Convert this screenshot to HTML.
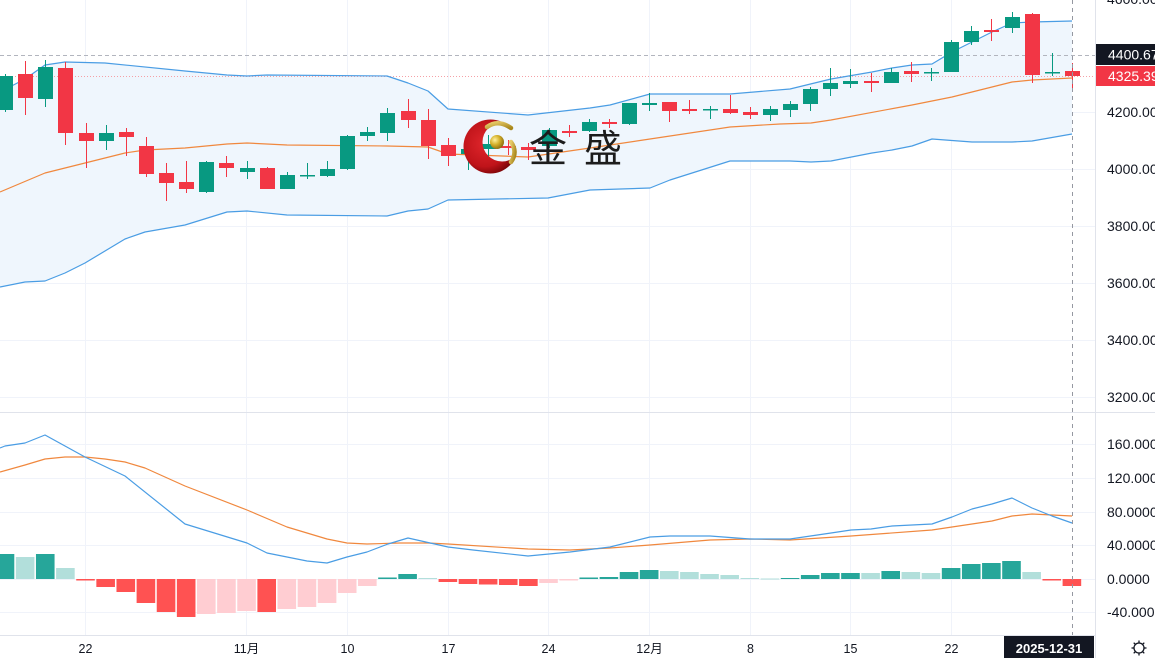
<!DOCTYPE html>
<html><head><meta charset="utf-8">
<style>
html,body{margin:0;padding:0;background:#fff;width:1155px;height:658px;overflow:hidden}
svg{display:block}
text{font-family:"Liberation Sans","Noto Sans CJK SC",sans-serif}
</style></head><body>
<svg id="c" width="1155" height="658" viewBox="0 0 1155 658" xmlns="http://www.w3.org/2000/svg">
<defs>
<radialGradient id="rg" cx="0.4" cy="0.45" r="0.6">
<stop offset="0" stop-color="#e0262c"/><stop offset="0.7" stop-color="#c0141a"/><stop offset="1" stop-color="#7a0508"/>
</radialGradient>
<radialGradient id="gg" cx="0.35" cy="0.35" r="0.7">
<stop offset="0" stop-color="#fff2a0"/><stop offset="0.5" stop-color="#d4b02a"/><stop offset="1" stop-color="#8a6a10"/>
</radialGradient>
<linearGradient id="ga" x1="0" y1="0" x2="1" y2="1">
<stop offset="0" stop-color="#e8cc6a"/><stop offset="1" stop-color="#a8871c"/>
</linearGradient>
<mask id="cm" maskUnits="userSpaceOnUse" x="450" y="100" width="100" height="100">
<rect x="450" y="100" width="100" height="100" fill="#fff"/>
<circle cx="502" cy="142" r="19.5" fill="#000"/>
</mask>
</defs>

<!-- grid -->
<g stroke="#f0f3fa" stroke-width="1">
<line x1="0" y1="112.5" x2="1095" y2="112.5"/>
<line x1="0" y1="169.5" x2="1095" y2="169.5"/>
<line x1="0" y1="226.5" x2="1095" y2="226.5"/>
<line x1="0" y1="283.5" x2="1095" y2="283.5"/>
<line x1="0" y1="340.5" x2="1095" y2="340.5"/>
<line x1="0" y1="397.5" x2="1095" y2="397.5"/>
<line x1="0" y1="444.5" x2="1095" y2="444.5"/>
<line x1="0" y1="478.5" x2="1095" y2="478.5"/>
<line x1="0" y1="512.5" x2="1095" y2="512.5"/>
<line x1="0" y1="545.5" x2="1095" y2="545.5"/>
<line x1="0" y1="579.5" x2="1095" y2="579.5"/>
<line x1="0" y1="612.5" x2="1095" y2="612.5"/>
<line x1="85.5" y1="0" x2="85.5" y2="635"/>
<line x1="246.5" y1="0" x2="246.5" y2="635"/>
<line x1="347.5" y1="0" x2="347.5" y2="635"/>
<line x1="448.5" y1="0" x2="448.5" y2="635"/>
<line x1="548.5" y1="0" x2="548.5" y2="635"/>
<line x1="649.5" y1="0" x2="649.5" y2="635"/>
<line x1="750.5" y1="0" x2="750.5" y2="635"/>
<line x1="850.5" y1="0" x2="850.5" y2="635"/>
<line x1="951.5" y1="0" x2="951.5" y2="635"/>
</g>

<!-- bollinger fill -->
<polygon fill="#eff6fd" points="0,92 25,79 45,65 65,62 105,63 185,71 227,75 247,76 267,75 387,76 408,83 428,91 448,109 528,115 590,108 610,105 650,94 730,94 790,89 831,79 872,72 892,68 912,65 932,64 952,52 972,42 992,32 1012,23 1032,22 1072,21 1072,134 1032,141 1012,142 972,142 932,139 912,146 892,150 872,153 831,161 811,162 790,161 730,161 670,180 650,188 590,190 548,198 448,200 428,209 408,211 387,216 287,215 247,211 227,212 185,225 145,232 125,239 85,263 65,273 45,281 25,282 0,287"/>

<!-- price lines -->
<line x1="0" y1="55.5" x2="1095" y2="55.5" stroke="#b2b5be" stroke-width="1" stroke-dasharray="4,3"/>
<line x1="0" y1="76.5" x2="1095" y2="76.5" stroke="#f5a0a6" stroke-width="1" stroke-dasharray="1,2"/>

<!-- bands -->
<g fill="none" stroke-width="1.2" stroke-linejoin="round">
<polyline stroke="#4a9de4" points="0,92 25,79 45,65 65,62 105,63 185,71 227,75 247,76 267,75 387,76 408,83 428,91 448,109 528,115 590,108 610,105 650,94 730,94 790,89 831,79 872,72 892,68 912,65 932,64 952,52 972,42 992,32 1012,23 1032,22 1072,21"/>
<polyline stroke="#4a9de4" points="0,287 25,282 45,281 65,273 85,263 125,239 145,232 185,225 227,212 247,211 287,215 387,216 408,211 428,209 448,200 548,198 590,190 650,188 670,180 730,161 790,161 811,162 831,161 872,153 892,150 912,146 932,139 972,142 1012,142 1032,141 1072,134"/>
<polyline stroke="#f0883e" points="0,192 45,173 85,163 125,153 145,150 185,148 227,144 247,143 287,145 387,146 428,147 448,154 528,157 590,148 650,139 730,127 780,124 811,123 831,120 912,105 932,101 952,97 972,92 1012,82 1032,80 1072,78"/>
</g>

<g id="candles"></g>

<!-- logo -->
<g>
<circle cx="490.5" cy="146.5" r="27" fill="url(#rg)" mask="url(#cm)"/>
<path d="M487,127 Q498,119 511,128" fill="none" stroke="url(#ga)" stroke-width="4.5" stroke-linecap="round"/>
<path d="M511,142 Q518,152 511,162" fill="none" stroke="url(#ga)" stroke-width="4.5" stroke-linecap="round"/>
<circle cx="497" cy="142" r="7" fill="url(#gg)"/>
<text x="529" y="162" font-size="38" fill="#1c1c1c" style='font-family:"Noto Sans CJK SC","WenQuanYi Zen Hei",sans-serif'>金</text>
<text x="584" y="162" font-size="38" fill="#1c1c1c" style='font-family:"Noto Sans CJK SC","WenQuanYi Zen Hei",sans-serif'>盛</text>
</g>

<g id="hist"></g>

<!-- macd lines -->
<g fill="none" stroke-width="1.2" stroke-linejoin="round">
<polyline stroke="#f0883e" points="0,472 25,465 45,459 65,457 85,457 105,459 125,462 145,468 185,486 247,510 287,527 327,539 347,543 367,544 400,543 428,543 448,544 528,549 570,550 610,548 650,545 710,540 750,539 790,540 851,536 932,530 952,527 992,521 1012,516 1032,514 1072,516"/>
<polyline stroke="#4a9de4" points="0,448 5,446 25,443 45,435 85,457 125,476 185,524 247,543 267,553 307,561 327,563 347,557 367,552 388,544 408,538 448,547 473,550 528,556 570,552 610,547 650,537 670,536 710,536 750,539 790,539 831,533 851,530 871,529 892,526 912,525 932,524 952,517 972,509 992,504 1012,498 1032,508 1052,516 1072,523"/>
</g>

<!-- separators / axes -->
<line x1="0" y1="412.5" x2="1155" y2="412.5" stroke="#e0e3eb" stroke-width="1"/>
<line x1="0" y1="635.5" x2="1095" y2="635.5" stroke="#e0e3eb" stroke-width="1"/>
<line x1="1095.5" y1="0" x2="1095.5" y2="658" stroke="#e0e3eb" stroke-width="1"/>

<!-- crosshair -->
<line x1="1072.5" y1="0" x2="1072.5" y2="635" stroke="#9598a1" stroke-width="1" stroke-dasharray="4,4"/>

<!-- right axis labels -->
<g font-size="14" fill="#131722">
<text x="1107" y="4">4600.00</text>
<text x="1107" y="117">4200.00</text>
<text x="1107" y="174">4000.00</text>
<text x="1107" y="231">3800.00</text>
<text x="1107" y="288">3600.00</text>
<text x="1107" y="345">3400.00</text>
<text x="1107" y="402">3200.00</text>
<text x="1107" y="449">160.0000</text>
<text x="1107" y="483">120.0000</text>
<text x="1107" y="517">80.0000</text>
<text x="1107" y="550">40.0000</text>
<text x="1107" y="584">0.0000</text>
<text x="1107" y="617">-40.0000</text>
</g>
<rect x="1096" y="44" width="59" height="21" fill="#131722"/>
<text x="1108" y="59.5" font-size="14" fill="#fff">4400.67</text>
<rect x="1096" y="66" width="59" height="20" fill="#f23645"/>
<text x="1108" y="81" font-size="14" fill="#fff">4325.39</text>

<!-- bottom axis -->
<g font-size="12.5" fill="#131722" text-anchor="middle">
<text x="85.5" y="653">22</text>
<text x="246.5" y="653">11月</text>
<text x="347.5" y="653">10</text>
<text x="448.5" y="653">17</text>
<text x="548.5" y="653">24</text>
<text x="649.5" y="653">12月</text>
<text x="750.5" y="653">8</text>
<text x="850.5" y="653">15</text>
<text x="951.5" y="653">22</text>
</g>
<rect x="1004" y="636" width="90" height="22" fill="#131722"/>
<text x="1049" y="653" font-size="13" font-weight="bold" fill="#fff" text-anchor="middle">2025-12-31</text>

<!-- gear -->
<g stroke="#131722" stroke-width="1.3" fill="none">
<circle cx="1139" cy="648" r="5"/>
<line x1="1139" y1="640.5" x2="1139" y2="643"/>
<line x1="1139" y1="653" x2="1139" y2="655.5"/>
<line x1="1131.5" y1="648" x2="1134" y2="648"/>
<line x1="1144" y1="648" x2="1146.5" y2="648"/>
<line x1="1133.7" y1="642.7" x2="1135.5" y2="644.5"/>
<line x1="1142.5" y1="651.5" x2="1144.3" y2="653.3"/>
<line x1="1133.7" y1="653.3" x2="1135.5" y2="651.5"/>
<line x1="1142.5" y1="644.5" x2="1144.3" y2="642.7"/>
</g>
</svg>
<script>
(function(){
var NS="http://www.w3.org/2000/svg";
function el(t,a,p){var e=document.createElementNS(NS,t);for(var k in a)e.setAttribute(k,a[k]);p.appendChild(e);return e;}
function X(k){return 5+20.13*k;}
var C=[
[0,'g',76,110,74,112],[1,'r',74,98,61,115],[2,'g',67,99,60,107],[3,'r',68,133,62,145],
[4,'r',133,141,123,168],[5,'g',133,141,125,150],[6,'r',132,137,128,156],[7,'r',146,174,137,177],
[8,'r',173,183,163,201],[9,'r',182,189,161,193],[10,'g',162,192,161,193],[11,'r',163,168,156,177],
[12,'g',168,172,161,179],[13,'r',168,189,167,189],[14,'g',175,189,172,189],[15,'g',175,176,163,179],
[16,'g',169,176,161,177],[17,'g',136,169,135,170],[18,'g',132,136,127,141],[19,'g',113,133,108,141],
[20,'r',111,120,99,128],[21,'r',120,146,109,159],[22,'r',145,156,138,166],[23,'g',149,154,143,170],
[24,'g',144,149,135,160],[25,'r',146,148,140,155],[26,'r',147,150,143,160],[27,'g',130,146,128,148],
[28,'r',131,133,125,137],[29,'g',122,131,119,132],[30,'r',122,124,119,128],[31,'g',103,124,103,125],
[32,'g',103,105,93,111],[33,'r',102,111,102,122],[34,'r',109,111,100,114],[35,'g',109,110,106,119],
[36,'r',109,113,95,114],[37,'r',112,115,107,119],[38,'g',109,115,106,121],[39,'g',104,110,101,117],
[40,'g',89,104,87,111],[41,'g',83,89,68,96],[42,'g',81,84,69,88],[43,'r',81,83,73,92],
[44,'g',72,83,68,83],[45,'r',71,74,62,82],[46,'g',72,73,68,81],[47,'g',42,72,40,72],
[48,'g',31,42,26,45],[49,'r',30,32,19,41],[50,'g',17,28,12,33],[51,'r',14,75,13,83],
[52,'g',72,73,53,76],[53,'r',71,76,63,90]];
var g=document.getElementById('candles');
C.forEach(function(d){var x=Math.round(X(d[0]))+0.5;var col=d[1]=='g'?'#089981':'#f23645';
el('line',{x1:x,x2:x,y1:d[4],y2:d[5],stroke:col,'stroke-width':1},g);
el('rect',{x:x-7.5,y:d[2],width:15,height:Math.max(1.5,d[3]-d[2]),fill:col},g);});
var H=[[0,'dg',554],[1,'lg',557],[2,'dg',554],[3,'lg',568],[4,'r',580.5],[5,'r',587],[6,'r',592],[7,'r',603],
[8,'r',612],[9,'r',617],[10,'lr',614],[11,'lr',613],[12,'lr',611],[13,'r',612],[14,'lr',609],[15,'lr',607],
[16,'lr',603],[17,'lr',593],[18,'lr',586],[19,'dg',577.5],[20,'dg',574],[21,'lg',578],[22,'r',582],[23,'r',584],
[24,'r',584.5],[25,'r',585],[26,'r',586],[27,'lr',583],[28,'lr',580.5],[29,'dg',577.5],[30,'dg',577],[31,'dg',572],
[32,'dg',570],[33,'lg',571],[34,'lg',572],[35,'lg',574],[36,'lg',575],[37,'lg',578],[38,'lg',578.5],[39,'dg',578],
[40,'dg',575],[41,'dg',573],[42,'dg',573],[43,'lg',573],[44,'dg',571],[45,'lg',572],[46,'lg',573],[47,'dg',568],
[48,'dg',564],[49,'dg',563],[50,'dg',561],[51,'lg',572],[52,'r',580.5],[53,'r',586]];
var cols={dg:'#26a69a',lg:'#b2dfdb',r:'#ff5252',lr:'#ffcdd2'};
var h=document.getElementById('hist');var z=579;
H.forEach(function(d){var x=X(d[0]);var y1=Math.min(z,d[2]),y2=Math.max(z,d[2]);
el('rect',{x:x-9.3,y:y1,width:18.6,height:Math.max(1,y2-y1),fill:cols[d[1]]},h);});
})();
</script>
</body></html>
